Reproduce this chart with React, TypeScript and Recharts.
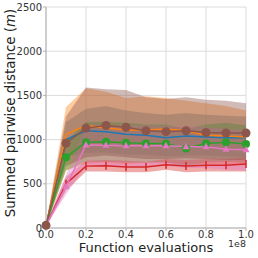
import React from "react";
import {
  ComposedChart,
  Area,
  Line,
  XAxis,
  YAxis,
  CartesianGrid,
} from "recharts";

const evals = [0, 0.1, 0.2, 0.3, 0.4, 0.5, 0.6, 0.7, 0.8, 0.9, 1.0];
const xTicks = [0, 0.2, 0.4, 0.6, 0.8, 1.0];
const yTicks = [0, 500, 1000, 1500, 2000, 2500];

const blueMean = [30, 1000, 1100, 1090, 1060, 1050, 1020, 1040, 1030, 1020, 1020];
const blueLo = [20, 800, 850, 850, 830, 830, 810, 820, 820, 810, 800];
const blueHi = [40, 1200, 1350, 1380, 1330, 1300, 1280, 1300, 1280, 1270, 1260];

const orangeMean = [30, 1060, 1160, 1130, 1110, 1110, 1120, 1100, 1050, 1040, 1030];
const orangeLo = [20, 650, 730, 740, 720, 740, 740, 720, 720, 720, 710];
const orangeHi = [40, 1370, 1580, 1540, 1470, 1490, 1470, 1440, 1410, 1380, 1330];

const greenMean = [30, 800, 970, 975, 965, 955, 955, 900, 955, 970, 950];
const greenLo = [20, 650, 750, 750, 740, 740, 740, 700, 740, 750, 740];
const greenHi = [40, 980, 1200, 1200, 1190, 1170, 1170, 1120, 1170, 1190, 1160];

const redMean = [30, 500, 700, 705, 690, 690, 715, 700, 710, 710, 725];
const redLo = [20, 420, 640, 640, 630, 630, 660, 630, 640, 640, 640];
const redHi = [40, 580, 760, 770, 760, 750, 780, 770, 780, 780, 800];

const pinkMean = [30, 470, 940, 935, 930, 930, 930, 920, 920, 890, 885];
const pinkLo = [20, 380, 700, 700, 690, 690, 700, 680, 680, 660, 650];
const pinkHi = [40, 600, 1170, 1170, 1160, 1160, 1150, 1150, 1140, 1120, 1110];

const brownMean = [30, 960, 1130, 1160, 1140, 1100, 1090, 1100, 1080, 1075, 1075];
const brownLo = [20, 700, 800, 820, 800, 780, 780, 790, 780, 770, 770];
const brownHi = [40, 1260, 1590, 1570, 1560, 1480, 1460, 1480, 1450, 1440, 1410];

const series = [
  { key: "blue", color: "#1f77b4", mean: blueMean, lo: blueLo, hi: blueHi },
  { key: "orange", color: "#ff7f0e", mean: orangeMean, lo: orangeLo, hi: orangeHi },
  { key: "green", color: "#2ca02c", mean: greenMean, lo: greenLo, hi: greenHi },
  { key: "red", color: "#d62728", mean: redMean, lo: redLo, hi: redHi },
  { key: "pink", color: "#e377c2", mean: pinkMean, lo: pinkLo, hi: pinkHi },
  { key: "brown", color: "#8c564b", mean: brownMean, lo: brownLo, hi: brownHi },
];

const data = evals.map((x, i) => {
  const row: Record<string, number | number[]> = { x };
  series.forEach((s) => {
    row[s.key] = s.mean[i];
    row[s.key + "Band"] = [s.lo[i], s.hi[i]];
  });
  return row;
});

const FONT = "DejaVu Sans";
const tickStyle = { fontSize: 10, fill: "#333", fontFamily: FONT };

function circleDot(color: string, r: number) {
  return (p: { cx?: number; cy?: number; index?: number }) => (
    <circle key={p.index} cx={p.cx} cy={p.cy} r={r} fill={color} stroke="none" />
  );
}

function triDot(color: string) {
  return (p: { cx?: number; cy?: number; index?: number }) => {
    const cx = p.cx ?? 0;
    const cy = p.cy ?? 0;
    return (
      <polygon
        key={p.index}
        points={`${cx},${cy - 4} ${cx - 3.5},${cy + 2.5} ${cx + 3.5},${cy + 2.5}`}
        fill={color}
      />
    );
  };
}

function vlineDot(color: string) {
  return (p: { cx?: number; cy?: number; index?: number }) => (
    <line
      key={p.index}
      x1={p.cx}
      x2={p.cx}
      y1={(p.cy ?? 0) - 4}
      y2={(p.cy ?? 0) + 4}
      stroke={color}
      strokeWidth={1.5}
    />
  );
}

const dots: Record<string, any> = {
  blue: false,
  orange: false,
  green: circleDot("#2ca02c", 4),
  red: vlineDot("#d62728"),
  pink: triDot("#e377c2"),
  brown: circleDot("#8c564b", 4.5),
};

export default function App() {
  return (
    <div style={{ position: "absolute", left: 0, top: 0, width: 258, height: 258, background: "#fff" }}>
      <ComposedChart
        width={258}
        height={258}
        data={data}
        margin={{ top: 7, right: 12, bottom: 0, left: 0 }}
      >
        <CartesianGrid stroke="#dcdcdc" strokeWidth={1} verticalValues={xTicks} horizontalValues={yTicks} />
        <XAxis
          dataKey="x"
          type="number"
          domain={[0, 1]}
          ticks={xTicks}
          tickFormatter={(v: number) => v.toFixed(1)}
          tick={tickStyle}
          tickSize={3}
          tickMargin={0}
          stroke="#b0b0b0"
          height={30}
        />
        <XAxis xAxisId="top" dataKey="x" type="number" domain={[0, 1]} orientation="top" tick={false} tickLine={false} stroke="#b0b0b0" height={0} />
        <YAxis
          type="number"
          domain={[0, 2500]}
          ticks={yTicks}
          tick={tickStyle}
          tickSize={3}
          tickMargin={1}
          stroke="#b0b0b0"
          width={46}
        />
        <YAxis yAxisId="right" orientation="right" domain={[0, 2500]} tick={false} tickLine={false} stroke="#b0b0b0" width={0} />
        {series.map((s) => (
          <Area
            key={s.key + "Band"}
            dataKey={s.key + "Band"}
            type="linear"
            stroke="none"
            fill={s.color}
            fillOpacity={0.4}
            isAnimationActive={false}
            activeDot={false}
          />
        ))}
        {series.map((s) => (
          <Line
            key={s.key}
            dataKey={s.key}
            type="linear"
            stroke={s.color}
            strokeWidth={1.5}
            dot={dots[s.key]}
            activeDot={false}
            isAnimationActive={false}
          />
        ))}
        <text x={146} y={252} textAnchor="middle" fontSize={13} fontFamily={FONT} fill="#222">
          Function evaluations
        </text>
        <text x={237} y={247} textAnchor="middle" fontSize={9.5} fontFamily={FONT} fill="#333">
          1e8
        </text>
        <text
          x={0}
          y={0}
          transform="translate(15,113) rotate(-90)"
          textAnchor="middle"
          fontSize={13.4}
          fontFamily={FONT}
          fill="#222"
        >
          Summed pairwise distance (<tspan fontStyle="italic">m</tspan>)
        </text>
      </ComposedChart>
    </div>
  );
}
